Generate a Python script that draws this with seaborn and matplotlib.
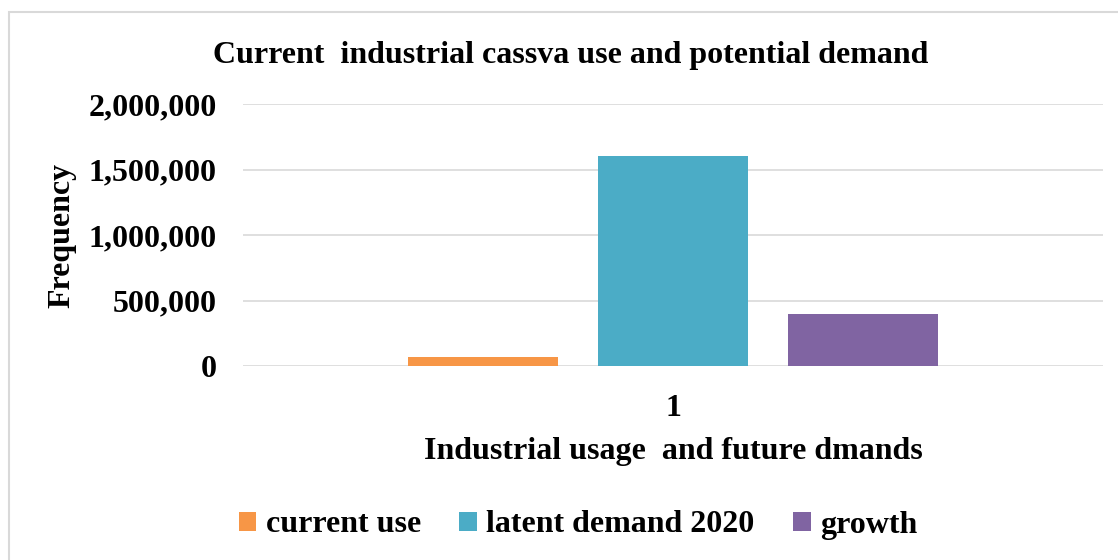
import matplotlib
matplotlib.use("Agg")
import matplotlib.pyplot as plt
import seaborn as sns
import pandas as pd
from matplotlib.patches import Rectangle, Patch
from matplotlib.ticker import FuncFormatter

# Data
categories = ["1"]
series = ["current use", "latent demand 2020", "growth"]
values = [70000, 1600000, 400000]
colors = ["#F79646", "#4BACC6", "#8064A2"]
yticks = [0, 500000, 1000000, 1500000, 2000000]

df = pd.DataFrame({
    "group": categories * len(series),
    "series": series,
    "value": values,
})

sns.set_theme(style="white")
plt.rcParams["font.family"] = ["Liberation Serif", "DejaVu Serif"]
plt.rcParams["font.weight"] = "bold"
plt.rcParams["text.color"] = "black"
plt.rcParams["axes.labelcolor"] = "black"
plt.rcParams["xtick.color"] = "black"
plt.rcParams["ytick.color"] = "black"

W, H = 1118, 560
FS = 23
fig = plt.figure(figsize=(W / 100, H / 100), dpi=100)

# light chart-area border
fig.patches.append(Rectangle((9 / W, -0.05), 1.2, 1 - 12 / H + 0.05,
                             transform=fig.transFigure, fill=False,
                             edgecolor="#d9d9d9", linewidth=1.5))

ax = fig.add_axes([243 / W, (H - 366) / H, (1103 - 243) / W, (366 - 104) / H])
sns.barplot(data=df, x="group", y="value", hue="series", hue_order=series,
            palette=colors, width=0.663, gap=0.21, saturation=1,
            linewidth=0, legend=False, ax=ax)

ax.set_xlim(-0.5, 0.5)
ax.set_ylim(0, 2000000)
ax.set_yticks(yticks)
ax.yaxis.set_major_formatter(FuncFormatter(lambda v, p: f"{int(v):,}"))
ax.grid(axis="y", color="#d9d9d9", linewidth=1.2)
ax.set_axisbelow(True)
for s in ax.spines.values():
    s.set_visible(False)
ax.tick_params(axis="both", length=0, labelsize=FS)
ax.tick_params(axis="y", pad=19)
ax.tick_params(axis="x", pad=20)
for lab in ax.get_xticklabels() + ax.get_yticklabels():
    lab.set_fontweight("bold")

ax.set_xlabel("Industrial usage  and future dmands", fontsize=FS,
              fontweight="bold", labelpad=10)
ax.set_ylabel("")
fig.text(62 / W, 1 - 235 / H, "Frequency", rotation=90, fontsize=FS,
         fontweight="bold", ha="center", va="center")

fig.text(571 / W, 1 - 55 / H, "Current  industrial cassva use and potential demand",
         fontsize=FS, fontweight="bold", ha="center", va="center")

handles = [Patch(facecolor=c, edgecolor="none") for c in colors]
fig.legend(handles, series, loc="center", bbox_to_anchor=(578 / W, 1 - 525 / H),
           ncol=3, frameon=False, handlelength=0.55,
           handleheight=0.55, handletextpad=0.3, columnspacing=1.2,
           prop={"weight": "bold", "size": FS})

fig.savefig("out.png", dpi=100)
